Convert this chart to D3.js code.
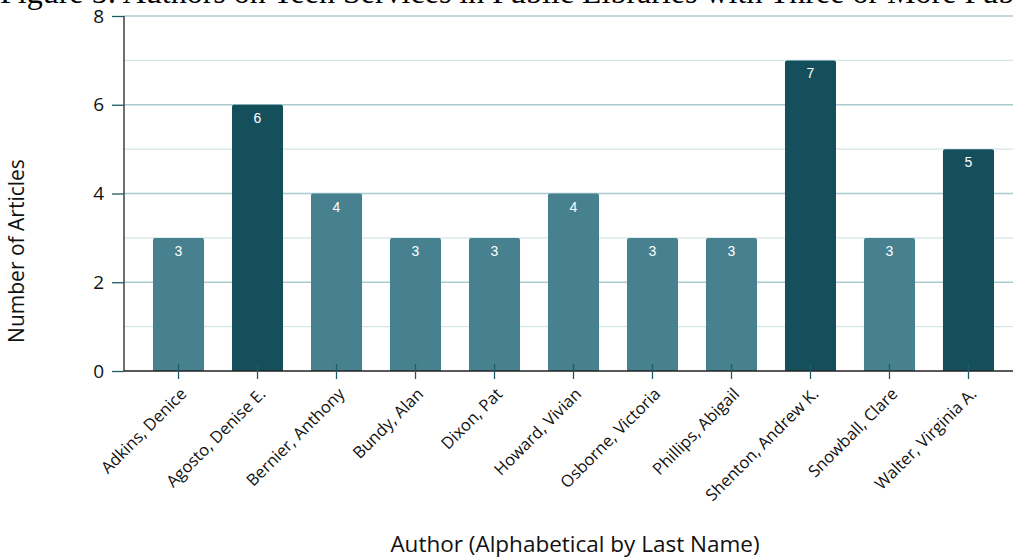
<!DOCTYPE html>
<html>
<head>
<meta charset="utf-8">
<script src="https://cdn.jsdelivr.net/npm/d3@7"></script>
<style>
  body { margin: 0; background: #fff; }
  svg { display: block; }
</style>
</head>
<body>
<svg width="1013" height="559"></svg>
<script>
// chart values
const authors = ['Adkins, Denice', 'Agosto, Denise E.', 'Bernier, Anthony', 'Bundy, Alan', 'Dixon, Pat',
  'Howard, Vivian', 'Osborne, Victoria', 'Phillips, Abigail', 'Shenton, Andrew K.', 'Snowball, Clare', 'Walter, Virginia A.'];
const articles = [3, 6, 4, 3, 3, 4, 3, 3, 7, 3, 5];
const yTicks = [0, 2, 4, 6, 8];
const titleText = 'Figure 5: Authors on Teen Services in Public Libraries with Three or More Publications';

const svg = d3.select('svg');
const lightColor = '#47818f';
const darkColor = '#164f5c';

const x = d3.scaleBand().domain(authors).range([124, 1023]).paddingInner(0.354).paddingOuter(0.367);
const y = d3.scaleLinear().domain([0, 8]).range([371, 16]);

// title (cut off at the top like the original)
svg.append('text')
  .attr('x', 0).attr('y', 3)
  .style('font-family', '"Liberation Serif", "Times New Roman", serif')
  .style('font-size', '32px')
  .attr('fill', '#000')
  .text(titleText);

// grid lines
const grid = svg.append('g');
d3.range(1, 9).forEach(v => {
  grid.append('line')
    .attr('x1', 124).attr('x2', 1013)
    .attr('y1', y(v)).attr('y2', y(v))
    .attr('stroke', v % 2 == 0 ? '#a9cbd0' : '#d3e6e8')
    .attr('stroke-width', 1.3);
});

// bars
svg.append('g').selectAll('path')
  .data(authors).enter()
  .append('path')
  .attr('fill', (d, i) => articles[i] >= 5 ? darkColor : lightColor)
  .attr('d', (d, i) => {
    const x0 = x(d), w = x.bandwidth(), y0 = y(articles[i]), y1 = y(0), r = 2;
    return `M${x0},${y1}V${y0 + r}Q${x0},${y0} ${x0 + r},${y0}H${x0 + w - r}Q${x0 + w},${y0} ${x0 + w},${y0 + r}V${y1}Z`;
  });

// value labels
svg.append('g').selectAll('text')
  .data(authors).enter()
  .append('text')
  .attr('x', d => x(d) + x.bandwidth() / 2)
  .attr('y', (d, i) => y(articles[i]) + 18)
  .attr('text-anchor', 'middle')
  .attr('fill', '#fff')
  .style('font-family', '"Liberation Sans", Arial, sans-serif')
  .style('font-size', '14px')
  .text((d, i) => articles[i]);

// y axis
const yAxis = svg.append('g')
  .attr('transform', 'translate(124,0)')
  .call(d3.axisLeft(y).tickValues(yTicks).tickSize(12).tickPadding(8));
yAxis.select('.domain').attr('stroke', '#222').attr('stroke-width', 1.3).attr('d', `M0,${y(8)}V${y(0)}`);
yAxis.selectAll('.tick line').attr('stroke', '#1f5a68').attr('stroke-width', 1.3);
yAxis.selectAll('.tick text')
  .attr('fill', '#111')
  .style('font-family', '"Open Sans", sans-serif')
  .style('font-size', '19px');

// x axis
const xAxis = svg.append('g')
  .attr('transform', `translate(0,${y(0)})`)
  .call(d3.axisBottom(x).tickSizeInner(8).tickSizeOuter(0).tickPadding(10));
xAxis.select('.domain').attr('stroke', '#222').attr('stroke-width', 1.3).attr('d', 'M124,0H1013');
xAxis.selectAll('.tick line').attr('stroke', '#1f5a68').attr('stroke-width', 1.3).attr('y1', -7);
xAxis.selectAll('.tick text')
  .attr('fill', '#111')
  .style('font-family', '"Open Sans", sans-serif')
  .style('font-size', '16.5px')
  .attr('text-anchor', 'end')
  .attr('dy', null)
  .attr('transform', 'translate(9,24) rotate(-45)')
  .attr('y', 0).attr('x', 0);

// axis titles
svg.append('text')
  .attr('transform', 'translate(24,251) rotate(-90)')
  .attr('text-anchor', 'middle')
  .attr('fill', '#111')
  .style('font-family', '"Open Sans", sans-serif')
  .style('font-size', '21px')
  .text('Number of Articles');

svg.append('text')
  .attr('x', 575).attr('y', 552)
  .attr('text-anchor', 'middle')
  .attr('fill', '#111')
  .style('font-family', '"Open Sans", sans-serif')
  .style('font-size', '22.5px')
  .text('Author (Alphabetical by Last Name)');
</script>
</body>
</html>
